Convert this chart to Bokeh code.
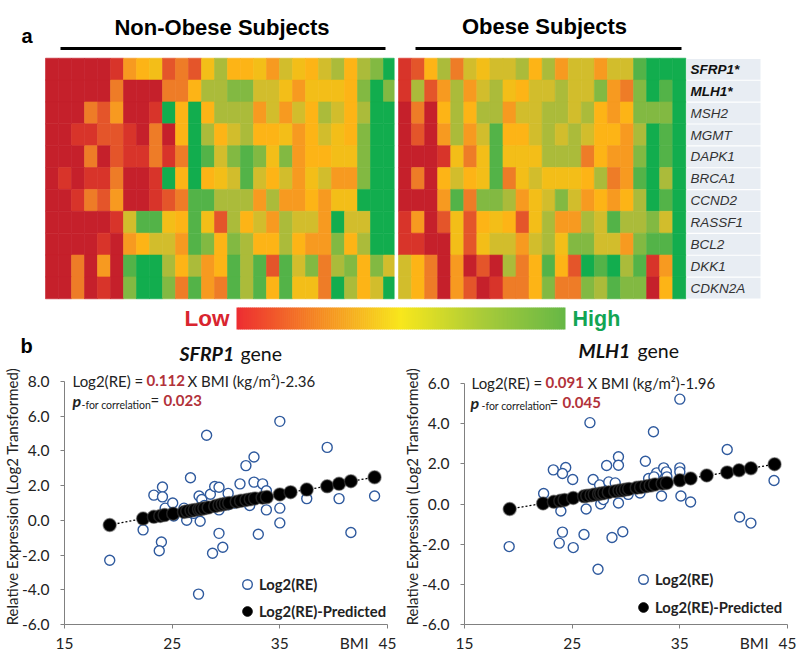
from bokeh.embed import file_html
from bokeh.resources import INLINE
from bokeh.plotting import figure
from bokeh.layouts import column, row
from bokeh.models import Label, Range1d, FixedTicker, NumeralTickFormatter, Legend, LegendItem, LinearAxis

# ---------- data ----------
genes = ["SFRP1*", "MLH1*", "MSH2", "MGMT", "DAPK1", "BRCA1", "CCND2", "RASSF1", "BCL2", "DKK1", "CDKN2A"]
# expression level per cell, hex digit 0 (lowest) .. b (highest)
non_obese = [
    "0 0 0 0 0 1 4 5 6 2 3 2 6 8 5 5 6 4 7 6 5 7 8 5 8 9 b",
    "0 0 0 0 0 3 0 0 0 3 3 5 8 8 9 9 7 7 6 4 6 6 6 5 9 b 9",
    "0 0 0 3 2 4 0 0 1 b 5 b 5 8 8 8 4 7 4 7 5 8 7 5 8 b b",
    "0 0 1 1 2 2 1 0 3 0 5 b 8 5 7 8 5 5 6 4 5 7 6 5 9 b b",
    "0 0 0 3 0 2 1 1 3 1 3 b a 7 9 a 9 6 9 4 5 5 6 6 9 b b",
    "0 1 0 1 1 3 0 0 1 b 5 b 5 6 7 a 7 5 7 4 6 7 4 4 9 b b",
    "0 0 1 3 2 4 0 0 1 2 3 a a 8 8 8 4 8 4 4 5 4 6 6 b b b",
    "0 0 0 0 0 1 7 a a 6 5 a 6 2 8 5 7 4 8 7 7 4 b 7 7 b b",
    "0 0 0 0 1 0 4 5 7 7 4 a 9 5 9 8 5 5 8 5 4 4 9 5 8 b b",
    "0 0 3 0 4 0 a b b 8 5 8 4 5 a 8 a 2 a 7 9 3 8 9 5 9 7",
    "0 0 3 0 1 0 9 b b 9 3 a 4 3 a 8 a 5 a 6 6 3 b 8 5 7 b",
]
obese = [
    "1 2 5 8 3 7 6 7 7 8 5 8 4 7 7 4 7 7 a b b b",
    "1 8 2 4 8 4 7 8 6 5 7 7 8 7 7 9 4 3 9 b a b",
    "0 3 0 5 8 5 8 8 4 7 7 8 8 7 8 5 4 5 9 9 9 b",
    "0 2 0 4 8 4 7 a 5 5 7 8 7 8 7 5 5 4 8 b a b",
    "0 0 0 1 6 3 6 a 6 6 6 8 8 8 3 5 4 4 9 b a b",
    "0 3 0 5 7 5 6 a 3 6 7 6 6 6 5 8 3 4 a b 8 b",
    "0 0 0 4 a 3 9 9 8 4 6 7 9 7 4 5 4 5 8 b a b",
    "1 4 0 2 6 2 5 6 5 2 6 8 4 4 8 7 a 8 8 9 7 b",
    "1 1 0 0 6 2 6 7 7 4 7 8 6 9 9 7 7 4 9 a a b",
    "7 5 3 0 4 0 2 0 8 3 5 a 5 2 b a b 8 a 1 4 b",
    "7 5 3 0 4 2 0 1 3 3 5 9 3 3 9 8 a 9 9 0 5 b",
]
level_colors = ["#c5202b", "#d8342a", "#e4552a", "#ee7c27", "#f79a20", "#fdb416",
                "#f3be18", "#d2bd2c", "#abbb3a", "#82b942", "#53b348", "#12ad4e"]
scale_stops = ["#ed2e32", "#f58a22", "#f8e71c", "#a9cb39", "#67b846"]

bmi_left = [19.2, 22.3, 23.3, 24.1, 24.1, 24.0, 23.8, 24.35, 25.05, 25.15, 26.1, 26.35, 26.7, 26.7, 27.0, 27.45, 27.5, 27.6,
            27.75, 28.0, 28.2, 28.55, 28.95, 29.35, 29.35, 28.75, 29.7, 29.35, 30.2, 30.2, 30.8, 31.3, 31.85, 32.6, 32.6,
            32.2, 33.0, 33.4, 33.75, 33.75, 35.0, 35.0, 35.0, 37.5, 39.4, 40.5, 41.6, 43.8]
re_left = [-2.3, -0.55, 1.45, 1.92, 1.35, -1.25, -1.75, 0.7, 1.0, 0.25, 0.7, 0.0, 2.45, 0.45, 0.4, -4.25, 1.4, -0.05,
           1.2, 0.85, 4.9, 1.5, 1.95, 1.9, -0.75, -1.9, -1.55, 0.6, 1.55, 0.9, 1.0, 2.1, 3.15, 3.65, 2.2,
           0.85, -0.8, 2.1, 1.7, 0.6, 5.7, 0.7, -0.15, 1.25, 4.2, 1.25, -0.7, 1.4]
bmi_pred = [19.2, 22.3, 23.3, 23.9, 24.3, 25.1, 26.1, 26.4, 26.8, 27.1, 27.5, 27.7, 28.0, 28.4, 29.0, 29.4, 29.7, 30.0,
            30.3, 31.0, 31.4, 31.9, 32.3, 32.7, 33.4, 33.8, 35.0, 36.0, 37.5, 39.4, 40.5, 41.6, 43.8]
pred_left = [-0.27, 0.1, 0.2, 0.25, 0.3, 0.38, 0.48, 0.52, 0.56, 0.6, 0.63, 0.65, 0.69, 0.74, 0.82, 0.88, 0.92, 0.96,
             0.99, 1.07, 1.12, 1.17, 1.22, 1.26, 1.3, 1.34, 1.49, 1.62, 1.77, 1.96, 2.1, 2.25, 2.48]

bmi_right = [19.15, 22.35, 23.25, 24.4, 24.1, 23.95, 24.1, 23.8, 25.05, 25.1, 26.1, 26.3, 26.65, 26.95, 27.4, 27.55, 27.65,
             27.9, 28.2, 28.4, 28.7, 29.0, 29.3, 29.3, 29.3, 29.7, 30.2, 31.3, 31.8, 32.1, 32.55, 32.85, 32.6, 33.3, 33.5,
             33.75, 33.8, 35.0, 35.0, 35.0, 35.1, 36.0, 39.4, 40.55, 41.6, 43.75]
re_right = [-2.12, 0.52, 1.7, 1.82, 1.52, -0.35, -1.4, -1.95, 1.22, -2.17, -1.52, -0.25, 4.05, 1.22, -3.25, 0.95, 0.0,
            0.22, 1.92, 1.1, -1.67, 1.05, 2.35, 1.93, 0.05, -1.38, 0.48, 0.55, 2.13, 1.27, 3.6, 1.55, 1.35, 0.4, 1.8,
            1.6, 1.35, 5.22, 1.8, 1.6, 0.4, 0.1, 2.71, -0.65, -0.95, 1.17]
pred_right = [-0.25, 0.03, 0.11, 0.16, 0.2, 0.3, 0.38, 0.41, 0.44, 0.47, 0.5, 0.52, 0.55, 0.59, 0.64, 0.67, 0.69, 0.72,
              0.75, 0.81, 0.84, 0.89, 0.92, 0.97, 1.02, 1.05, 1.18, 1.27, 1.42, 1.57, 1.68, 1.78, 1.98]

x_ticks = [15, 25, 35, 45]
bmi_label_at = 41.9
y_ticks_left = [-6, -4, -2, 0, 2, 4, 6, 8]
y_ticks_right = [-6, -4, -2, 0, 2, 4, 6]

SANS = "Liberation Sans"
LATO = "Lato"
DARK = "#222222"
RED = "#b2323a"
TOP_H = 368
ROW_H = 291

# ---------- top figure: axes equal page pixels ----------
top = figure(width=800, height=TOP_H, x_range=Range1d(0, 800), y_range=Range1d(TOP_H, 0),
             output_backend="svg", toolbar_location=None, min_border=0, outline_line_color=None)
top.xaxis.visible = False
top.yaxis.visible = False
top.grid.visible = False


def top_text(x, y, s, size, color="black", style="bold", font=SANS, align="left"):
    top.add_layout(Label(x=x, y=y, text=s, text_font=font, text_font_size=size, text_font_style=style,
                         text_color=color, text_align=align, text_baseline="middle"))


def hex_to_rgb(c):
    return [int(c[i:i + 2], 16) for i in (1, 3, 5)]


def heat(matrix, x0, x1, cw, y0, rh):
    L, R, T, B, C = [], [], [], [], []
    for r, line in enumerate(matrix):
        for c, ch in enumerate(line.split()):
            L.append(x0 + c * cw)
            R.append(min(x0 + (c + 1) * cw, x1))
            T.append(y0 + r * rh)
            B.append(y0 + (r + 1) * rh)
            C.append(level_colors[int(ch, 16)])
    top.quad(left=L, right=R, top=T, bottom=B, fill_color=C, line_color=C, line_width=0.6)


RH = (298.3 - 57.7) / 11
heat(non_obese, 45, 393.7, 13.0, 57.7, RH)
heat(obese, 398, 685.3, 287.3 / 22, 57.7, RH)

# gene table
for i, g in enumerate(genes):
    ytop = 58.5 + i * RH
    top.quad(left=[686], right=[760], top=[ytop], bottom=[ytop + RH - 1.2], fill_color="#e8edf3", line_color=None)
    strong = g.endswith("*")
    top_text(690, ytop + RH / 2 - 0.5, g, "13.5px", "#111111" if strong else "#333333",
             "bold italic" if strong else "italic")

# headers
top.rect(x=[222.5, 548], y=[48, 48], width=[325, 266], height=[3, 3], fill_color="black", line_color=None)
top_text(221.5, 27, "Non-Obese Subjects", "22px", align="center")
top_text(544, 25.5, "Obese Subjects", "22px", align="center")
top_text(21, 35, "a", "20px")
top_text(20, 345, "b", "20px")
top_text(179, 353, "SFRP1", "19.5px", "#111111", "bold italic", LATO)
top_text(240, 353, "gene", "19.5px", "#111111", "normal", LATO)
top_text(578, 350, "MLH1", "19.5px", "#111111", "bold italic", LATO)
top_text(637, 350, "gene", "19.5px", "#111111", "normal", LATO)

# colour scale
N = 165
bar_x0, bar_x1 = 236.0, 565.0
L, R, C = [], [], []
segs = len(scale_stops) - 1
for i in range(N):
    t = i / (N - 1) * segs
    k = min(int(t), segs - 1)
    a, b = hex_to_rgb(scale_stops[k]), hex_to_rgb(scale_stops[k + 1])
    f = t - k
    C.append("#%02x%02x%02x" % tuple(round(a[j] + (b[j] - a[j]) * f) for j in range(3)))
    L.append(bar_x0 + (bar_x1 - bar_x0) * i / N)
    R.append(bar_x0 + (bar_x1 - bar_x0) * (i + 1) / N + (0.6 if i < N - 1 else 0))
top.quad(left=L, right=R, top=[307] * N, bottom=[329] * N, fill_color=C, line_color=None)
top_text(229, 318, "Low", "22.5px", "#d9252f", align="right")
top_text(572, 318, "High", "21.5px", "#12a554")


# ---------- scatter panels ----------
def panel(page_left, page_y_top, page_y_bottom, ymin, ymax, yticks, bmi, re, pred, legend_xy, spacing):
    unit_px = (page_y_bottom - page_y_top) / (ymax - ymin)
    range_top = ymax + (page_y_top - TOP_H) / unit_px
    p = figure(width=400, height=ROW_H, x_range=Range1d(15, 45), y_range=Range1d(ymin, range_top),
               output_backend="svg", toolbar_location=None, outline_line_color=None,
               min_border_left=62, min_border_right=13,
               min_border_top=0, min_border_bottom=TOP_H + ROW_H - page_y_bottom)
    p.grid.visible = False
    # the first x axis carries the line and the tick marks only
    xa = p.xaxis[0]
    xa.ticker = FixedTicker(ticks=x_ticks)
    xa.major_label_overrides = {v: "" for v in x_ticks}
    xa.major_label_text_font_size = "1px"
    xa.major_label_standoff = 0
    # the second one carries the tick labels and the BMI caption
    xb = LinearAxis(ticker=FixedTicker(ticks=x_ticks + [bmi_label_at]),
                    major_label_overrides={bmi_label_at: "BMI"},
                    axis_line_color=None, major_tick_line_color=None, minor_tick_line_color=None,
                    major_tick_out=0, major_tick_in=0, major_label_standoff=5)
    p.add_layout(xb, "below")
    for ax in (xa, xb, p.yaxis[0]):
        ax.minor_tick_line_color = None
    for ax in (xa, p.yaxis[0]):
        ax.axis_line_color = "#808080"
        ax.major_tick_line_color = "#808080"
        ax.major_tick_in = 0
        ax.major_tick_out = 4
    for ax in (xb, p.yaxis[0]):
        ax.major_label_text_font = LATO
        ax.major_label_text_font_size = "15.5px"
        ax.major_label_text_color = DARK
    ya = p.yaxis[0]
    ya.ticker = FixedTicker(ticks=yticks)
    ya.bounds = (ymin, ymax)
    ya.formatter = NumeralTickFormatter(format="0.0")
    ya.major_label_standoff = 11
    ya.axis_label = "Relative Expression (Log2 Transformed)"
    ya.axis_label_text_font = LATO
    ya.axis_label_text_font_style = "normal"
    ya.axis_label_text_font_size = "15px"
    ya.axis_label_text_color = DARK
    ya.axis_label_standoff = -2

    p.line(bmi_pred, pred, line_color="black", line_dash="2 2", line_width=1.3)
    open_r = p.scatter(bmi, re, size=10, marker="circle", fill_color="white", line_color="#2f5a9e", line_width=1.4)
    key_r = p.scatter(bmi_pred, pred, size=9.5, marker="circle", fill_color="black", line_color="black")
    p.scatter(bmi_pred, pred, size=13, marker="circle", fill_color="black", line_color="#444444",
              line_alpha=0.5, line_width=1.5)
    p.add_layout(Legend(items=[LegendItem(label="Log2(RE)", renderers=[open_r]),
                               LegendItem(label="Log2(RE)-Predicted", renderers=[key_r])],
                        location=legend_xy, border_line_color=None, background_fill_alpha=0,
                        padding=0, margin=0, spacing=spacing, glyph_width=24, glyph_height=24,
                        label_height=20, label_standoff=0, label_text_font=LATO, label_text_font_size="14.8px",
                        label_text_font_style="bold", label_text_color=DARK))

    def text(px, py, s, size, color=DARK, style="normal", font=LATO):
        p.add_layout(Label(x=px - page_left, y=py - TOP_H, x_units="canvas", y_units="canvas", text=s,
                           text_font=font, text_font_size=size, text_font_style=style,
                           text_color=color, text_baseline="middle"))

    return p, text


left, t = panel(0, 381, 626, -6, 8, y_ticks_left, bmi_left, re_left, pred_left, (171, 1), 3)

# left panel texts
t(72, 380, "Log2(RE) =", "15px")
t(146, 380, "0.112", "15px", RED, "bold")
t(187, 380, "X BMI (kg/m²)-2.36", "15px")
t(72, 400, "p", "16px", DARK, "bold italic")
t(81, 404, "-for correlation", "10.5px")
t(150, 399, "=", "15px")
t(163, 400, "0.023", "15px", RED, "bold")

right, t = panel(400, 383, 624, -6, 6, y_ticks_right, bmi_right, re_right, pred_right, (167, 5), 4)

# right panel texts
t(471, 382, "Log2(RE) =", "15px")
t(545, 382, "0.091", "15px", RED, "bold")
t(587, 382, "X BMI (kg/m²)-1.96", "15px")
t(470, 402, "p", "16px", DARK, "bold italic")
t(481, 405, "-for correlation", "10.5px")
t(549, 401, "=", "15px")
t(562, 402, "0.045", "15px", RED, "bold")

page = column(top, row(left, right, spacing=0), spacing=0)
open("out.html", "w").write(file_html(page, INLINE))
